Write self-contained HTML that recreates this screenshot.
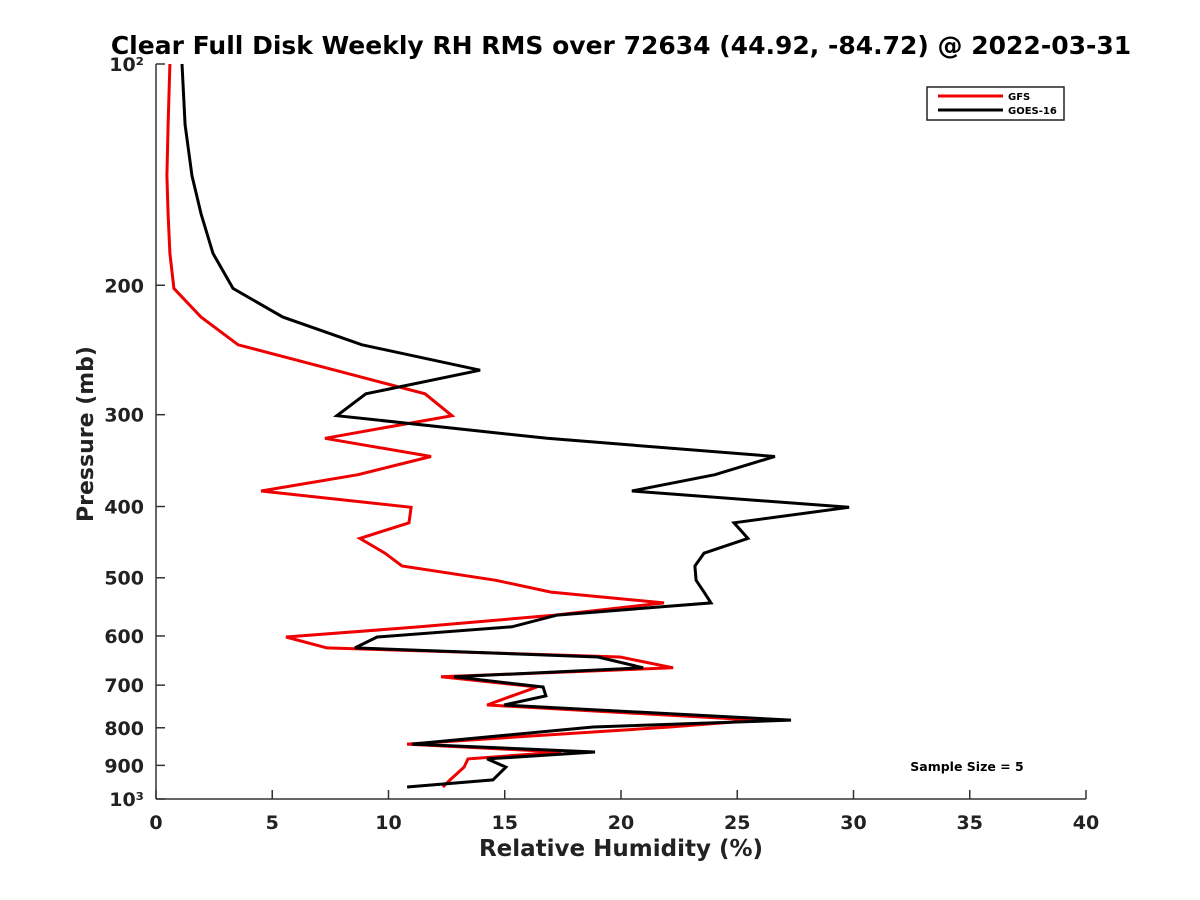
<!DOCTYPE html>
<html><head><meta charset="utf-8"><style>
body{margin:0;background:#fff}
svg{display:block;font-family:"DejaVu Sans","Liberation Sans",sans-serif}
</style></head><body>
<svg id="chart" width="1200" height="900" viewBox="0 0 1200 900" xmlns="http://www.w3.org/2000/svg">
<rect width="1200" height="900" fill="#fff"/>
<text x="621" y="54" text-anchor="middle" font-size="25" font-weight="bold">Clear Full Disk Weekly RH RMS over 72634 (44.92, -84.72) @ 2022-03-31</text>
<g id="axes"></g>
<g id="series"></g>
<text x="621" y="856" text-anchor="middle" font-size="23" font-weight="bold" fill="#222">Relative Humidity (%)</text>
<text transform="translate(93,434) rotate(-90)" text-anchor="middle" font-size="22" font-weight="bold" fill="#222">Pressure (mb)</text>
<g>
<rect x="927" y="87" width="137" height="33" fill="#fff" stroke="#222" stroke-width="1.5"/>
<line x1="938" y1="96" x2="1003" y2="96" stroke="#e00" stroke-width="3"/>
<text x="1008" y="100" font-size="10" font-weight="bold">GFS</text>
<line x1="938" y1="110" x2="1003" y2="110" stroke="#000" stroke-width="3"/>
<text x="1008" y="114" font-size="10" font-weight="bold">GOES-16</text>
</g>
<text x="967" y="771" text-anchor="middle" font-size="12.5" font-weight="bold">Sample Size = 5</text>
</svg>
<script>
const pressures=[100,121,142,160,181,202,221,241,261,281,301,323,342,362,381,401,421,442,463,482,504,523,541,562,583,602,623,641,663,682,704,724,745,781,798,842,863,882,905,942,963];
const goesRH=[1.12,1.25,1.55,1.94,2.45,3.31,5.46,8.86,13.94,9.03,7.78,16.82,26.62,24.04,20.47,29.81,24.86,25.46,23.57,23.18,23.23,23.57,23.87,17.25,15.31,9.51,8.56,19.01,20.95,12.82,16.65,16.77,14.97,27.31,18.8,11.01,18.88,14.24,15.05,14.49,10.8];
const gfsRH=[0.6,0.52,0.47,0.52,0.6,0.77,1.94,3.53,7.7,11.57,12.73,7.27,11.83,8.69,4.52,10.97,10.88,8.77,9.85,10.58,14.62,16.99,21.85,17.16,11.35,5.59,7.35,19.96,22.24,12.26,16.39,15.31,14.24,25.85,22.1,10.8,17.42,13.42,13.25,12.65,12.34];
const xTicks=[0,5,10,15,20,25,30,35,40];
const yTicks=[100,200,300,400,500,600,700,800,900,1000];
const yTickLabels=["10²","200","300","400","500","600","700","800","900","10³"];
const NS="http://www.w3.org/2000/svg";
const X0=156,X1=1086,Y0=64,Y1=799;
function xs(v){return X0+(v/40)*(X1-X0);}
function ys(p){return Y0+Math.log10(p/100)*(Y1-Y0);}
function mk(t,a,parent){const e=document.createElementNS(NS,t);for(const k in a)e.setAttribute(k,a[k]);parent.appendChild(e);return e;}
const ax=document.getElementById('axes');
const sp1=mk('line',{x1:X0,y1:Y0,x2:X0,y2:Y1,stroke:'#333','stroke-width':1.5},ax);


const sp2=mk('line',{x1:X0,y1:Y1,x2:X1,y2:Y1,stroke:'#333','stroke-width':1.5},ax);


xTicks.forEach(v=>{
  const x=xs(v);
  const tk=mk('line',{x1:x,y1:Y1,x2:x,y2:Y1-9,stroke:'#333','stroke-width':1.5},ax);
  
  
  const t=mk('text',{x:x,y:829,'text-anchor':'middle','font-size':19,'font-weight':'bold',fill:'#222'},ax);
  t.textContent=v;
  
  
});
yTicks.forEach((p,i)=>{
  const y=ys(p);
  const tk=mk('line',{x1:X0,y1:y,x2:X0+9,y2:y,stroke:'#333','stroke-width':1.5},ax);
  
  
  const t=mk('text',{x:144,y:y+7,'text-anchor':'end','font-size':19,'font-weight':'bold',fill:'#222'},ax);
  t.textContent=yTickLabels[i];
  
  
});
const sg=document.getElementById('series');
function line(vals,color,name){
  const pts=vals.map((v,i)=>xs(v).toFixed(1)+','+ys(pressures[i]).toFixed(1)).join(' ');
  const l=mk('polyline',{points:pts,fill:'none',stroke:color,'stroke-width':3,'stroke-linejoin':'miter'},sg);
  
  
}
line(gfsRH,'#e00','gfs-line');
line(goesRH,'#000','goes16-line');
</script>
</body></html>
